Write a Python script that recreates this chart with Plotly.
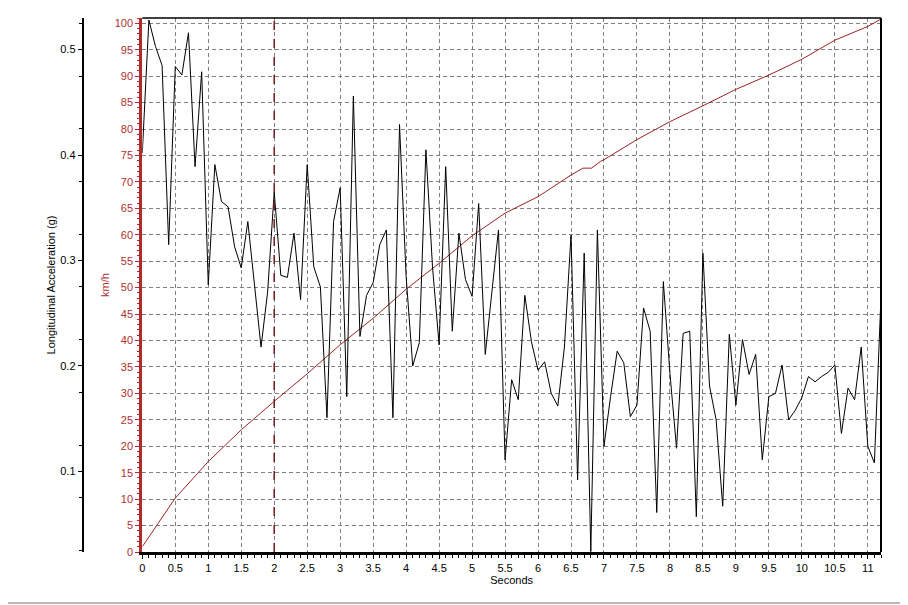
import plotly.graph_objects as go

# ---- data ----
time_s = [
    0.0, 0.1, 0.2, 0.3, 0.4, 0.5, 0.6, 0.7, 0.8, 0.9,
    1.0, 1.1, 1.2, 1.3, 1.4, 1.5, 1.6, 1.7, 1.8, 1.9,
    2.0, 2.1, 2.2, 2.3, 2.4, 2.5, 2.6, 2.7, 2.8, 2.9,
    3.0, 3.1, 3.2, 3.3, 3.4, 3.5, 3.6, 3.7, 3.8, 3.9,
    4.0, 4.1, 4.2, 4.3, 4.4, 4.5, 4.6, 4.7, 4.8, 4.9,
    5.0, 5.1, 5.2, 5.3, 5.4, 5.5, 5.6, 5.7, 5.8, 5.9,
    6.0, 6.1, 6.2, 6.3, 6.4, 6.5, 6.6, 6.7, 6.8, 6.9,
    7.0, 7.1, 7.2, 7.3, 7.4, 7.5, 7.6, 7.7, 7.8, 7.9,
    8.0, 8.1, 8.2, 8.3, 8.4, 8.5, 8.6, 8.7, 8.8, 8.9,
    9.0, 9.1, 9.2, 9.3, 9.4, 9.5, 9.6, 9.7, 9.8, 9.9,
    10.0, 10.1, 10.2, 10.3, 10.4, 10.5, 10.6, 10.7, 10.8, 10.9,
    11.0, 11.1, 11.2,
]

accel_g = [
    0.402, 0.528, 0.503, 0.485, 0.315, 0.484, 0.476, 0.516, 0.389, 0.479,
    0.277, 0.391, 0.356, 0.351, 0.313, 0.293, 0.337, 0.278, 0.218, 0.270,
    0.365, 0.286, 0.284, 0.326, 0.263, 0.391, 0.294, 0.275, 0.151, 0.337,
    0.369, 0.171, 0.456, 0.228, 0.267, 0.279, 0.315, 0.329, 0.151, 0.429,
    0.285, 0.200, 0.222, 0.405, 0.294, 0.220, 0.389, 0.233, 0.326, 0.282,
    0.266, 0.354, 0.211, 0.270, 0.329, 0.111, 0.187, 0.168, 0.267, 0.223,
    0.196, 0.204, 0.174, 0.162, 0.218, 0.324, 0.092, 0.307, 0.024, 0.329,
    0.124, 0.171, 0.214, 0.203, 0.152, 0.163, 0.255, 0.233, 0.061, 0.280,
    0.193, 0.122, 0.231, 0.233, 0.057, 0.307, 0.181, 0.149, 0.067, 0.230,
    0.163, 0.225, 0.192, 0.211, 0.111, 0.171, 0.174, 0.201, 0.149, 0.158,
    0.170, 0.190, 0.185, 0.190, 0.194, 0.201, 0.136, 0.179, 0.168, 0.218,
    0.124, 0.108, 0.266,
]

speed_time_s = [0.0, 0.25, 0.5, 1.0, 1.5, 2.0, 2.5, 3.0, 3.5, 4.0, 4.5, 5.0,
                5.5, 6.0, 6.5, 6.68, 6.81, 6.95, 7.0, 7.5, 8.0, 8.5, 9.0,
                9.5, 10.0, 10.5, 11.0, 11.2]
speed_kmh = [1.0, 5.5, 10.2, 17.1, 23.1, 28.5, 33.7, 39.2, 44.2, 49.7, 54.6,
             59.8, 64.1, 67.2, 71.3, 72.6, 72.6, 73.9, 74.2, 78.0, 81.4,
             84.4, 87.5, 90.2, 93.2, 96.8, 99.4, 100.8]

x_ticks = [0, 0.5, 1, 1.5, 2, 2.5, 3, 3.5, 4, 4.5, 5, 5.5, 6, 6.5, 7, 7.5,
           8, 8.5, 9, 9.5, 10, 10.5, 11]
x_tick_labels = ["0", "0.5", "1", "1.5", "2", "2.5", "3", "3.5", "4", "4.5",
                 "5", "5.5", "6", "6.5", "7", "7.5", "8", "8.5", "9", "9.5",
                 "10", "10.5", "11"]
cursor_time_s = 2.0

# ---- styling / layout (page has an 8px body margin) ----
FONT = "Liberation Sans"
RED_AXIS = "#b22a2a"
RED_TEXT = "#b03030"
RED_LINE = "#9a2424"
GRID = "#808080"
GRID_DASH = "4px,3px"
PAGE_OFF = 8
W, H = 908 - PAGE_OFF, 605 - PAGE_OFF
ML, MR, MT, MB = 0, 27, 18 - PAGE_OFF, 53
plot_left = 142.3 - PAGE_OFF
accel_axis_x = 82.7 - PAGE_OFF
paper_w = W - ML - MR
paper_h = H - MT - MB
x_dom0 = (plot_left - ML) / paper_w

fig = go.Figure()

fig.add_trace(go.Scatter(
    x=speed_time_s, y=speed_kmh, mode="lines",
    line=dict(color=RED_LINE, width=1), yaxis="y", showlegend=False,
))
fig.add_trace(go.Scatter(
    x=time_s, y=accel_g, mode="lines",
    line=dict(color="black", width=1), yaxis="y2", showlegend=False,
))

# outer picture frame (right and bottom edges of the window)
frame_x = (906.5 - PAGE_OFF - ML) / paper_w
frame_y = -(603 - PAGE_OFF - (H - MB)) / paper_h

fig.update_layout(
    width=W, height=H,
    margin=dict(l=ML, r=MR, t=MT, b=MB, pad=0),
    paper_bgcolor="white", plot_bgcolor="white",
    font=dict(family=FONT, size=11, color="black"),
    showlegend=False,
    xaxis=dict(
        domain=[x_dom0, 1],
        range=[0, 11.2],
        tickvals=x_ticks, ticktext=x_tick_labels,
        ticks="outside", ticklen=4, tickcolor="black", tickwidth=1,
        showline=True, linecolor="black", linewidth=3,
        showgrid=True, gridcolor=GRID, griddash=GRID_DASH, gridwidth=1,
        zeroline=False,
        minor=dict(dtick=0.1, tick0=0, ticks="outside", ticklen=3,
                   tickcolor="black", showgrid=False),
        title=dict(text="Seconds", standoff=3, font=dict(size=11)),
        automargin=False,
        tickfont=dict(size=11, color="black"),
    ),
    yaxis=dict(
        range=[0, 101.0],
        dtick=5, tick0=0,
        ticks="outside", ticklen=4, tickcolor=RED_AXIS, tickwidth=1,
        showline=True, linecolor=RED_AXIS, linewidth=3,
        showgrid=True, gridcolor=GRID, griddash=GRID_DASH, gridwidth=1,
        zeroline=False,
        minor=dict(dtick=1, tick0=0, ticks="outside", ticklen=2,
                   tickcolor=RED_AXIS, showgrid=False),
        tickfont=dict(size=11, color=RED_TEXT),
        title=dict(text="km/h", standoff=3, font=dict(size=11, color=RED_TEXT)),
        automargin=False,
    ),
    yaxis2=dict(
        overlaying="y", side="left", anchor="free",
        position=(accel_axis_x - ML) / paper_w,
        range=[0.0236, 0.530],
        dtick=0.1, tick0=0, tickformat=".1f",
        ticks="outside", ticklen=4, tickcolor="black", tickwidth=1,
        showline=True, linecolor="black", linewidth=2,
        showgrid=False, zeroline=False,
        minor=dict(dtick=0.05, tick0=0.025, ticks="outside", ticklen=3,
                   tickcolor="black", showgrid=False),
        tickfont=dict(size=11, color="black"),
        title=dict(text="Longitudinal Acceleration (g)", standoff=1,
                   font=dict(size=11, color="black")),
        automargin=False,
    ),
    shapes=[
        dict(type="line", xref="x", yref="paper", x0=cursor_time_s,
             x1=cursor_time_s, y0=0, y1=1,
             line=dict(color="#6e1c1c", width=1.5, dash="dash")),
        dict(type="line", xref="paper", yref="paper",
             x0=x_dom0, x1=1, y0=1, y1=1,
             line=dict(color="black", width=1.5)),
        dict(type="line", xref="paper", yref="paper", x0=1, x1=1, y0=0, y1=1,
             line=dict(color="black", width=2)),
        dict(type="line", xref="paper", yref="paper",
             x0=frame_x, x1=frame_x, y0=frame_y, y1=1 + MT / paper_h,
             line=dict(color="#a0a0a0", width=1.5)),
        dict(type="line", xref="paper", yref="paper",
             x0=-ML / paper_w, x1=frame_x, y0=frame_y, y1=frame_y,
             line=dict(color="#a0a0a0", width=1.5)),
    ],
)

fig.write_html("out.html")
